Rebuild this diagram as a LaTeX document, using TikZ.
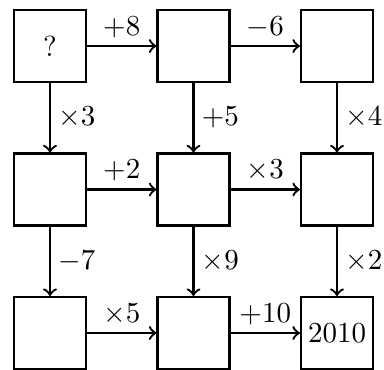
\documentclass[tikz,border=0pt]{standalone}
\usepackage{tikz}
\usetikzlibrary{positioning}
\tikzset{
  cell/.style={rectangle,draw=black,thick,minimum size=0.87cm,inner sep=0pt,align=center},
  arrow/.style={->,thick},
  oplabel/.style={font=\normalsize,inner sep=2.5pt}
}

\begin{document}
\begin{tikzpicture}[node distance=0.841cm]
    \useasboundingbox (-0.606,0.558) rectangle (4.048,-3.915);
    \node[cell] (a1) {?};
    \node[cell,right=of a1] (a2) {};
    \node[cell,right=of a2] (a3) {};
    \node[cell,below=of a1] (b1) {};
    \node[cell,right=of b1] (b2) {};
    \node[cell,right=of b2] (b3) {};
    \node[cell,below=of b1] (c1) {};
    \node[cell,right=of c1] (c2) {};
    \node[cell,right=of c2] (c3) {2010};
    % rows
    \draw[arrow] (a1) -- node[oplabel,above] {$+8$} (a2);
    \draw[arrow] (a2) -- node[oplabel,above] {$-6$} (a3);
    \draw[arrow] (b1) -- node[oplabel,above] {$+2$} (b2);
    \draw[arrow] (b2) -- node[oplabel,above] {$\times3$} (b3);
    \draw[arrow] (c1) -- node[oplabel,above] {$\times5$} (c2);
    \draw[arrow] (c2) -- node[oplabel,above] {$+10$} (c3);
    % columns
    \draw[arrow] (a1) -- node[oplabel,right] {$\times3$} (b1);
    \draw[arrow] (a2) -- node[oplabel,right] {$+5$} (b2);
    \draw[arrow] (a3) -- node[oplabel,right] {$\times4$} (b3);
    \draw[arrow] (b1) -- node[oplabel,right] {$-7$} (c1);
    \draw[arrow] (b2) -- node[oplabel,right] {$\times9$} (c2);
    \draw[arrow] (b3) -- node[oplabel,right] {$\times2$} (c3);
\end{tikzpicture}
\end{document}
